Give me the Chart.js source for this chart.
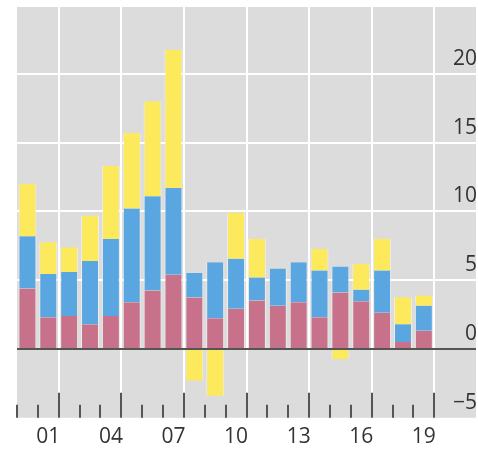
<!DOCTYPE html>
<html><head><meta charset="utf-8">
<script src="https://cdn.jsdelivr.net/npm/chart.js@4.4.1/dist/chart.umd.min.js"></script>
<style>html,body{margin:0;padding:0;background:#fff;}</style>
</head><body>
<canvas id="c" width="478" height="449"></canvas>
<script>
const years = [2000,2001,2002,2003,2004,2005,2006,2007,2008,2009,2010,2011,2012,2013,2014,2015,2016,2017,2018,2019];
const pink   = [4.4,2.3,2.4,1.8,2.4,3.4,4.25,5.4,3.75,2.24,2.92,3.53,3.15,3.4,2.3,4.1,3.46,2.63,0.5,1.32];
const blue   = [3.8,3.15,3.2,4.6,5.6,6.8,6.85,6.3,1.77,4.06,3.63,1.67,2.7,2.9,3.4,1.9,0.84,3.08,1.3,1.82];
const yellow = [3.8,2.3,1.8,3.3,5.3,5.5,6.9,10.05,-2.3,-3.4,3.35,2.8,0,0,1.58,-0.75,1.9,2.29,1.96,0.74];
const yTicks = [-5,0,5,10,15,20];
const labeledYears = [2001,2004,2007,2010,2013,2016,2019];

const FONT = {family:'"Open Sans", sans-serif', size:21};
const TEXT = '#333333';

// two empty slots on the right leave room for the value labels
const labels = years.map(String).concat(['', ' ']);

const barCommon = {barPercentage:0.86, categoryPercentage:1,
  borderWidth:{left:1,right:1,top:0,bottom:0}, borderColor:'rgba(255,255,255,0.5)', borderSkipped:false};

const decor = {
  id:'decor',
  beforeDraw(chart){
    const {ctx, chartArea:a} = chart;
    ctx.save(); ctx.fillStyle = '#dcdcdc';
    ctx.fillRect(a.left, a.top, a.right - a.left, a.bottom - a.top);
    ctx.restore();
  },
  afterDatasetsDraw(chart){
    const {ctx, chartArea:a, scales:{x, y}} = chart;
    ctx.save(); ctx.strokeStyle = '#555555'; ctx.lineWidth = 2;
    const y0 = y.getPixelForValue(0);
    ctx.beginPath(); ctx.moveTo(a.left, y0); ctx.lineTo(a.right, y0); ctx.stroke();
    for (let i = -1; i < years.length; i++) {
      const px = Math.round(x.getPixelForValue(i + 0.5));
      const major = ((i % 3) + 3) % 3 === 1;
      const len = major ? 25 : 13;
      ctx.beginPath(); ctx.moveTo(px, a.bottom); ctx.lineTo(px, a.bottom - len); ctx.stroke();
    }
    ctx.restore();
  }
};

new Chart(document.getElementById('c'), {
  type:'bar',
  data:{labels, datasets:[
    Object.assign({label:'Pink', data:pink, backgroundColor:'#c8718a'}, barCommon),
    Object.assign({label:'Blue', data:blue, backgroundColor:'#5aa6e0'}, barCommon),
    Object.assign({label:'Yellow', data:yellow, backgroundColor:'#fdea5c'}, barCommon)
  ]},
  options:{
    responsive:false, animation:false, devicePixelRatio:1,
    layout:{padding:{left:17, top:7, right:0, bottom:-8}},
    plugins:{legend:{display:false}, tooltip:{enabled:false}},
    scales:{
      x:{stacked:true, offset:true,
        afterFit:(s)=>{ s.paddingLeft = 0; s.paddingRight = 0; },
        grid:{offset:true, drawTicks:false, lineWidth:2,
          color:(c)=> (c.index !== undefined && c.index % 3 === 2) ? '#ffffff' : 'rgba(0,0,0,0)'},
        border:{display:false},
        ticks:{autoSkip:false, maxRotation:0, padding:7, color:TEXT, font:FONT,
          callback:(v,i)=>{ const yr = years[i]; return labeledYears.includes(yr) ? String(yr % 100).padStart(2,'0') : ''; }}
      },
      y:{stacked:true, position:'right', min:-5, max:24.85,
        afterBuildTicks:(s)=>{ s.ticks = yTicks.map(v=>({value:v})); },
        afterFit:(s)=>{ s.paddingTop = 0; s.paddingBottom = 0; },
        grid:{drawTicks:false, lineWidth:2,
          color:(c)=> (c.tick && c.tick.value > 0) ? '#ffffff' : 'rgba(0,0,0,0)'},
        border:{display:false},
        ticks:{mirror:true, padding:1, labelOffset:-15, color:TEXT, font:FONT,
          callback:(v)=> v < 0 ? '\u2212' + Math.abs(v) : String(v)}
      }
    }
  },
  plugins:[decor]
});
</script>
</body></html>
